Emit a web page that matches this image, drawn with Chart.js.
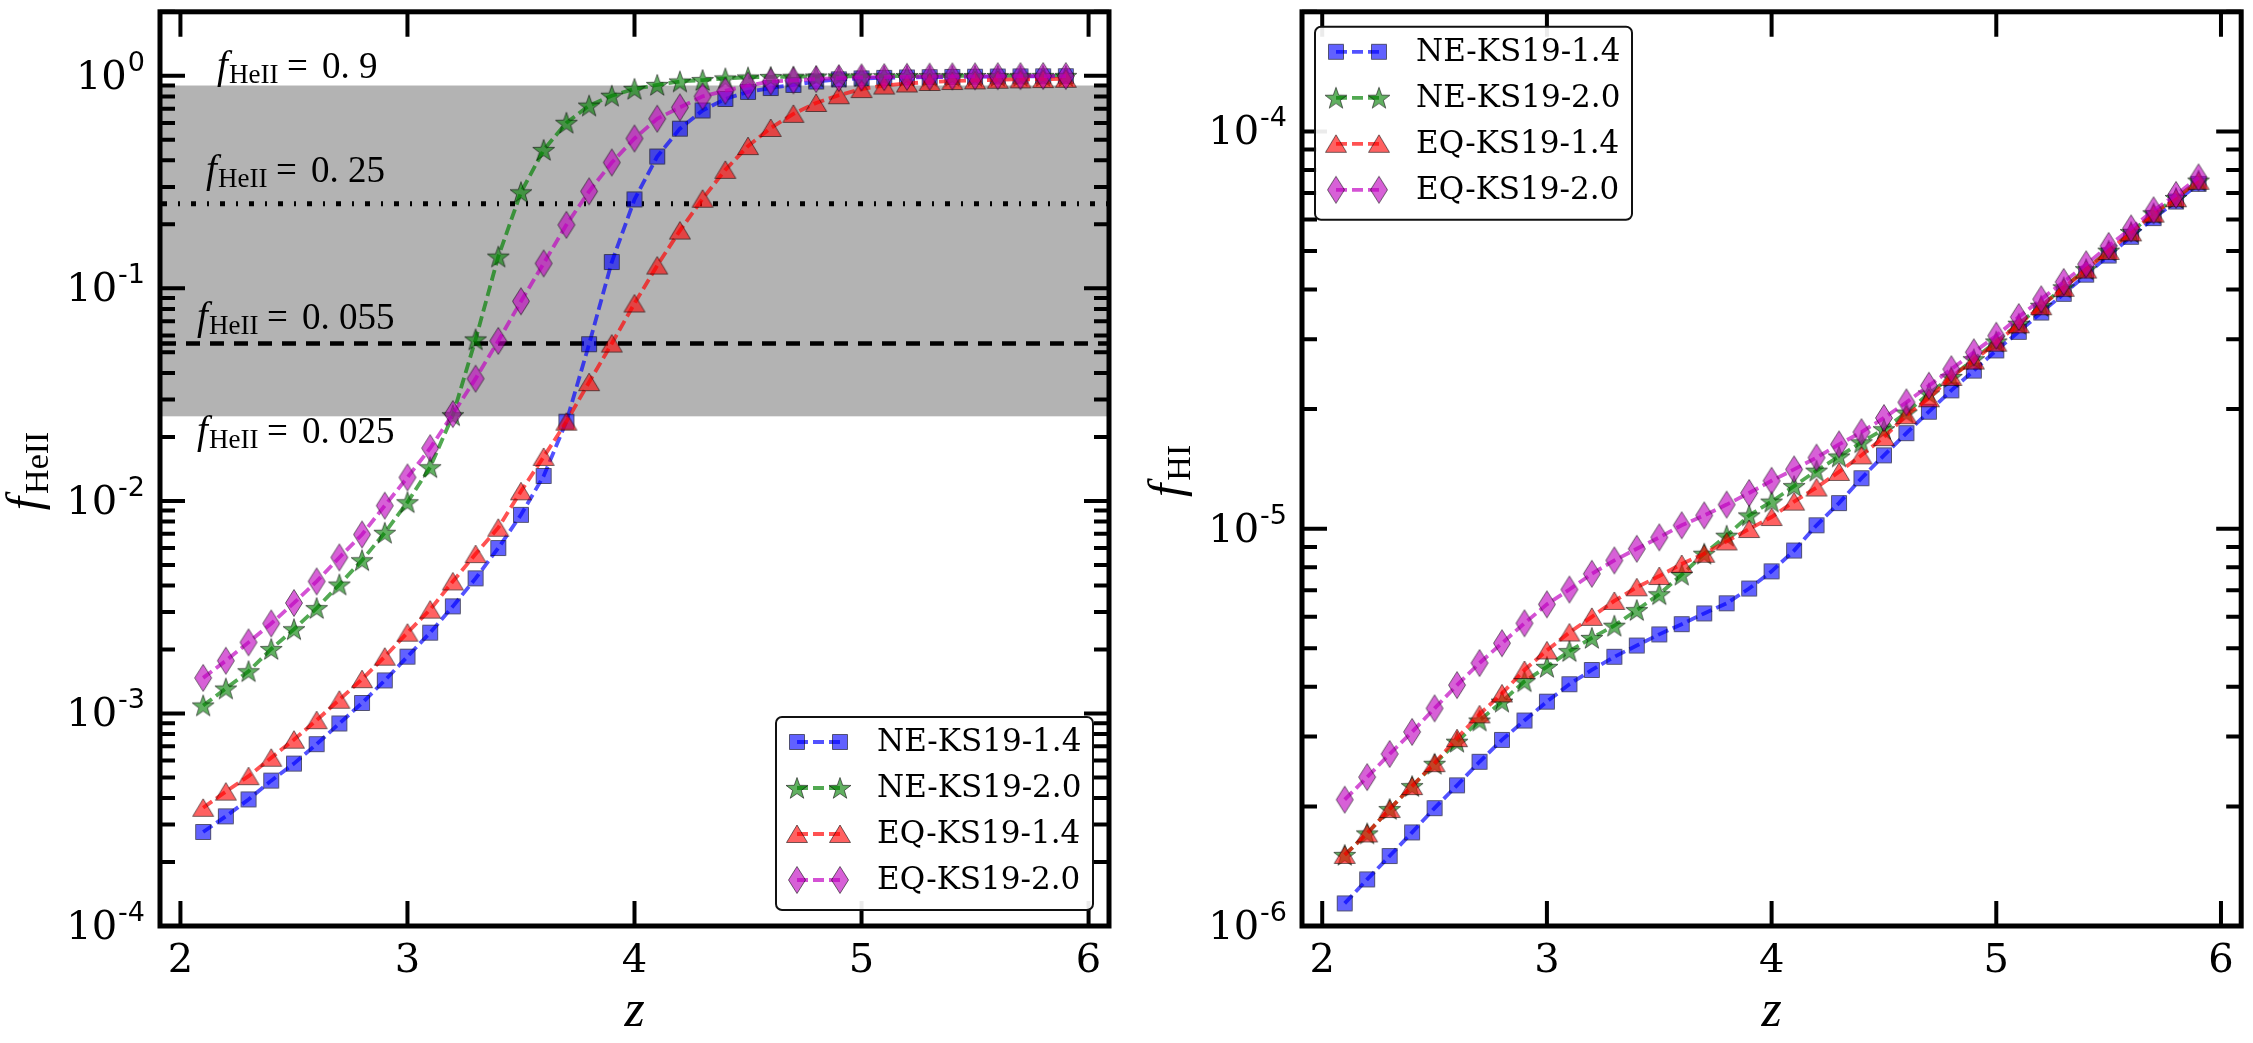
<!DOCTYPE html>
<html><head><meta charset="utf-8">
<script src="https://cdn.jsdelivr.net/npm/chart.js@4/dist/chart.umd.min.js"></script>
<style>
html,body{margin:0;padding:0;background:#fff;width:2253px;height:1043px;overflow:hidden}
canvas{position:absolute;left:0;top:0}
</style></head><body>
<canvas id="c1" width="2253" height="1043"></canvas>
<canvas id="c2" width="2253" height="1043"></canvas>
<script>
// ---------------- DATA ----------------
const zValues = [2.1,2.2,2.3,2.4,2.5,2.6,2.7,2.8,2.9,3.0,3.1,3.2,3.3,3.4,3.5,3.6,3.7,3.8,3.9,4.0,
                 4.1,4.2,4.3,4.4,4.5,4.6,4.7,4.8,4.9,5.0,5.1,5.2,5.3,5.4,5.5,5.6,5.7,5.8,5.9];
const seriesNames = ['NE-KS19-1.4','NE-KS19-2.0','EQ-KS19-1.4','EQ-KS19-2.0'];

// left panel: f_HeII
const heII_NE14 = [2.77e-4,3.28e-4,3.94e-4,4.83e-4,5.81e-4,7.17e-4,8.97e-4,1.12e-3,1.43e-3,1.85e-3,
                   2.40e-3,3.19e-3,4.32e-3,6.0e-3,8.6e-3,1.31e-2,2.36e-2,5.46e-2,0.133,0.262,
                   0.417,0.564,0.687,0.778,0.84,0.876,0.906,0.94,0.962,0.972,
                   0.978,0.982,0.985,0.988,0.99,0.992,0.993,0.994,0.995];
const heII_NE20 = [1.09e-3,1.31e-3,1.58e-3,2.01e-3,2.49e-3,3.13e-3,4.04e-3,5.26e-3,7.08e-3,9.86e-3,
                   1.44e-2,2.53e-2,5.75e-2,0.141,0.283,0.448,0.601,0.724,0.806,0.868,
                   0.906,0.94,0.955,0.972,0.982,0.988,0.99,0.992,0.994,0.995,
                   0.996,0.997,0.997,0.998,0.998,0.998,0.999,0.999,0.999];
const heII_EQ14 = [3.6e-4,4.29e-4,5.07e-4,6.19e-4,7.53e-4,9.3e-4,1.16e-3,1.45e-3,1.85e-3,2.40e-3,
                   3.08e-3,4.18e-3,5.62e-3,7.48e-3,1.11e-2,1.61e-2,2.36e-2,3.62e-2,5.5e-2,8.49e-2,
                   0.128,0.187,0.264,0.361,0.467,0.568,0.662,0.745,0.81,0.866,
                   0.90,0.92,0.935,0.945,0.952,0.958,0.962,0.965,0.968];
const heII_EQ20 = [1.47e-3,1.77e-3,2.16e-3,2.65e-3,3.31e-3,4.18e-3,5.42e-3,6.95e-3,9.5e-3,1.29e-2,
                   1.77e-2,2.56e-2,3.76e-2,5.66e-2,8.69e-2,0.131,0.199,0.286,0.391,0.507,
                   0.628,0.71,0.80,0.85,0.90,0.94,0.952,0.965,0.975,0.983,
                   0.986,0.989,0.991,0.993,0.994,0.995,0.996,0.997,0.997];

// right panel: f_HI
const hI_NE14 = [1.14e-6,1.31e-6,1.50e-6,1.72e-6,1.98e-6,2.26e-6,2.59e-6,2.94e-6,3.29e-6,3.67e-6,
                 4.06e-6,4.41e-6,4.76e-6,5.08e-6,5.42e-6,5.75e-6,6.12e-6,6.49e-6,7.07e-6,7.81e-6,
                 8.81e-6,1.02e-5,1.16e-5,1.34e-5,1.53e-5,1.74e-5,1.97e-5,2.23e-5,2.50e-5,2.81e-5,
                 3.13e-5,3.50e-5,3.90e-5,4.36e-5,4.87e-5,5.43e-5,6.05e-5,6.66e-5,7.38e-5];
const hI_NE20 = [1.51e-6,1.71e-6,1.97e-6,2.25e-6,2.56e-6,2.91e-6,3.29e-6,3.67e-6,4.13e-6,4.49e-6,
                 4.92e-6,5.31e-6,5.70e-6,6.24e-6,6.84e-6,7.66e-6,8.65e-6,9.6e-6,1.08e-5,1.17e-5,
                 1.28e-5,1.40e-5,1.52e-5,1.65e-5,1.78e-5,1.96e-5,2.19e-5,2.41e-5,2.67e-5,2.96e-5,
                 3.28e-5,3.64e-5,4.05e-5,4.50e-5,5.01e-5,5.58e-5,6.22e-5,6.80e-5,7.52e-5];
const hI_EQ14 = [1.51e-6,1.71e-6,1.97e-6,2.25e-6,2.57e-6,2.97e-6,3.41e-6,3.85e-6,4.41e-6,4.94e-6,
                 5.48e-6,6.0e-6,6.58e-6,7.12e-6,7.6e-6,8.15e-6,8.65e-6,9.29e-6,9.98e-6,1.07e-5,
                 1.17e-5,1.27e-5,1.39e-5,1.53e-5,1.70e-5,1.93e-5,2.13e-5,2.41e-5,2.65e-5,2.94e-5,
                 3.27e-5,3.63e-5,4.04e-5,4.49e-5,5.0e-5,5.57e-5,6.21e-5,6.79e-5,7.51e-5];
const hI_EQ20 = [2.08e-6,2.37e-6,2.71e-6,3.08e-6,3.53e-6,4.04e-6,4.59e-6,5.15e-6,5.78e-6,6.45e-6,
                 7.03e-6,7.7e-6,8.32e-6,8.9e-6,9.51e-6,1.02e-5,1.08e-5,1.15e-5,1.23e-5,1.32e-5,
                 1.41e-5,1.51e-5,1.63e-5,1.75e-5,1.90e-5,2.08e-5,2.29e-5,2.52e-5,2.78e-5,3.06e-5,
                 3.41e-5,3.78e-5,4.18e-5,4.63e-5,5.15e-5,5.70e-5,6.33e-5,6.92e-5,7.66e-5];

const xTicks = [2,3,4,5,6];
const xRange = [1.91, 6.09];
const heIIRange = [1e-4, 2];
const hIRange = [1e-6, 2e-4];
const heIIThresholds = [0.9, 0.25, 0.055, 0.025];
const heIIThresholdLabels = ['0.9','0.25','0.055','0.025'];

// ---------------- STYLE ----------------
const W = 2253, H = 1043;
const seriesColors = [[0,0,255],[0,128,0],[255,0,0],[191,0,191]];
const seriesShapes = ['square','star','triangle','diamond'];
const rgba = (c,a) => `rgba(${c[0]},${c[1]},${c[2]},${a})`;

function makeMarker(shape, col) {
  const c = document.createElement('canvas');
  let w, h;
  if (shape === 'square') { w = h = 18; }
  else if (shape === 'star') { w = h = 26; }
  else if (shape === 'triangle') { w = 24; h = 22; }
  else { w = 20; h = 30; }
  c.width = w; c.height = h;
  const g = c.getContext('2d');
  const cx = w/2, cy = h/2;
  g.beginPath();
  if (shape === 'square') {
    g.rect(cx-7.5, cy-7.5, 15, 15);
  } else if (shape === 'star') {
    const R = 11.5, r = R*0.40;
    for (let k = 0; k < 10; k++) {
      const rad = (k % 2 === 0) ? R : r;
      const ang = -Math.PI/2 + k*Math.PI/5;
      const px = cx + rad*Math.cos(ang), py = cy + 1 + rad*Math.sin(ang);
      if (k === 0) g.moveTo(px, py); else g.lineTo(px, py);
    }
    g.closePath();
  } else if (shape === 'triangle') {
    g.moveTo(cx, cy - 9); g.lineTo(cx - 10.5, cy + 8.5); g.lineTo(cx + 10.5, cy + 8.5); g.closePath();
  } else {
    g.moveTo(cx, cy - 13.5); g.lineTo(cx + 8.5, cy); g.lineTo(cx, cy + 13.5); g.lineTo(cx - 8.5, cy); g.closePath();
  }
  g.fillStyle = rgba(col, 0.62);
  g.fill();
  g.lineWidth = 1;
  g.strokeStyle = 'rgba(0,0,0,0.55)';
  g.stroke();
  return c;
}
const markers = seriesShapes.map((s,i) => makeMarker(s, seriesColors[i]));

function buildDatasets(seriesList) {
  return seriesList.map((vals, i) => ({
    label: seriesNames[i],
    data: zValues.map((z, j) => ({x: z, y: vals[j]})),
    borderColor: rgba(seriesColors[i], 0.68),
    backgroundColor: rgba(seriesColors[i], 0.62),
    borderWidth: 3.8,
    borderDash: [11, 5],
    borderCapStyle: 'butt',
    pointStyle: markers[i],
    pointRadius: 8,
    tension: 0,
    fill: false,
    order: 3 - i
  }));
}

function drawMathLabel(ctx, x, y, num) {
  ctx.fillStyle = '#000';
  ctx.textAlign = 'left'; ctx.textBaseline = 'alphabetic';
  ctx.font = 'italic 39px "Liberation Serif"';
  ctx.fillText('f', x + 4, y);
  ctx.font = '27px "Liberation Serif"';
  ctx.fillText('HeII', x + 16, y + 5);
  ctx.font = '37px "Liberation Serif"';
  ctx.fillText('=', x + 74, y);
  const parts = num.split('.');
  ctx.fillText(parts[0] + '.', x + 109, y);
  ctx.fillText(parts[1], x + 146, y);
}

function panelPlugin(cfg) {
  return {
    id: 'panel' + cfg.id,
    beforeDatasetsDraw(chart) {
      const ctx = chart.ctx, a = chart.chartArea, y = chart.scales.y;
      if (!cfg.thresholds) return;
      ctx.save();
      const t = cfg.thresholds;
      const yTop = y.getPixelForValue(t[0]), yBot = y.getPixelForValue(t[3]);
      ctx.fillStyle = '#b3b3b3';
      ctx.fillRect(a.left, yTop, a.right - a.left, yBot - yTop);
      ctx.strokeStyle = '#000';
      ctx.lineCap = 'butt';
      ctx.lineWidth = 5;
      ctx.setLineDash([5, 11, 2, 11]);
      let py = y.getPixelForValue(t[1]);
      ctx.beginPath(); ctx.moveTo(a.left + 2, py); ctx.lineTo(a.right, py); ctx.stroke();
      ctx.lineWidth = 4.5;
      ctx.setLineDash([14, 10]);
      py = y.getPixelForValue(t[2]);
      ctx.beginPath(); ctx.moveTo(a.left + 2, py); ctx.lineTo(a.right, py); ctx.stroke();
      ctx.setLineDash([]);
      const xOff = [53, 42, 33, 33], dy = [-8, -22, -15, 27];
      t.forEach((v, k) => {
        drawMathLabel(ctx, a.left + xOff[k], y.getPixelForValue(v) + dy[k], cfg.thresholdLabels[k]);
      });
      ctx.restore();
    },
    afterDatasetsDraw(chart) {
      const ctx = chart.ctx, a = chart.chartArea, x = chart.scales.x, y = chart.scales.y;
      ctx.save();
      ctx.setLineDash([]);
      ctx.strokeStyle = '#000';
      ctx.lineCap = 'butt';
      const majorLen = 25, minorLen = 15;
      ctx.lineWidth = 4;
      ctx.beginPath();
      xTicks.forEach(v => {
        const px = x.getPixelForValue(v);
        ctx.moveTo(px, a.bottom); ctx.lineTo(px, a.bottom - majorLen);
        ctx.moveTo(px, a.top); ctx.lineTo(px, a.top + majorLen);
      });
      const kMin = Math.floor(Math.log10(cfg.yRange[0])), kMax = Math.ceil(Math.log10(cfg.yRange[1]));
      for (let k = kMin; k <= kMax; k++) {
        for (let m = 1; m <= 9; m++) {
          const v = m * Math.pow(10, k);
          if (v < cfg.yRange[0] * 0.999 || v > cfg.yRange[1] * 1.001) continue;
          const py = y.getPixelForValue(v);
          const L = (m === 1) ? majorLen : minorLen;
          ctx.moveTo(a.left, py); ctx.lineTo(a.left + L, py);
          ctx.moveTo(a.right, py); ctx.lineTo(a.right - L, py);
        }
      }
      ctx.stroke();
      ctx.lineWidth = 5;
      ctx.strokeRect(a.left, a.top, a.right - a.left, a.bottom - a.top);
      ctx.fillStyle = '#000';
      ctx.font = '40px "DejaVu Serif"';
      ctx.textAlign = 'center'; ctx.textBaseline = 'alphabetic';
      xTicks.forEach(v => ctx.fillText(String(v), x.getPixelForValue(v), a.bottom + 46));
      for (let k = kMin; k <= kMax; k++) {
        const v = Math.pow(10, k);
        if (v < cfg.yRange[0] * 0.999 || v > cfg.yRange[1] * 1.001) continue;
        const py = y.getPixelForValue(v);
        const exp = String(k);
        ctx.textAlign = 'left';
        ctx.font = '27px "DejaVu Sans"';
        const we = ctx.measureText(exp).width;
        ctx.font = '40px "DejaVu Serif"';
        const wb = ctx.measureText('10').width;
        const rightEdge = a.left - 15;
        ctx.fillText('10', rightEdge - we - wb - 1, py + 13);
        ctx.font = '27px "DejaVu Sans"';
        ctx.fillText(exp, rightEdge - we, py - 5);
      }
      ctx.save();
      ctx.translate(a.left - 120, (a.top + a.bottom) / 2 + 2);
      ctx.rotate(-Math.PI / 2);
      ctx.font = 'italic 48px "Liberation Serif"';
      const wf = ctx.measureText('f').width;
      ctx.font = '34px "Liberation Serif"';
      const ws = ctx.measureText(cfg.sub).width;
      const tot = wf + 3 + ws;
      ctx.textAlign = 'left';
      ctx.font = 'italic 48px "Liberation Serif"';
      ctx.fillText('f', -tot / 2, 0);
      ctx.font = '34px "Liberation Serif"';
      ctx.fillText(cfg.sub, -tot / 2 + wf + 3, 8);
      ctx.restore();
      ctx.textAlign = 'center';
      ctx.font = 'italic 52px "Liberation Serif"';
      ctx.fillText('z', (a.left + a.right) / 2, 1026);
      const lw = 317, lh = 193;
      let bx, by;
      if (cfg.legend === 'lower right') { bx = a.right - 16 - lw; by = a.bottom - 16 - lh; }
      else { bx = a.left + 13; by = a.top + 15; }
      ctx.beginPath();
      if (ctx.roundRect) ctx.roundRect(bx, by, lw, lh, 6); else ctx.rect(bx, by, lw, lh);
      ctx.fillStyle = 'rgba(255,255,255,0.92)';
      ctx.fill();
      ctx.lineWidth = 2;
      ctx.strokeStyle = '#111';
      ctx.stroke();
      seriesNames.forEach((name, i) => {
        const cy = by + 25 + i * 46;
        const m1 = bx + 21, m2 = bx + 64;
        ctx.strokeStyle = rgba(seriesColors[i], 0.68);
        ctx.lineWidth = 3.8;
        ctx.setLineDash([11, 5]);
        ctx.beginPath(); ctx.moveTo(m1, cy); ctx.lineTo(m2, cy); ctx.stroke();
        ctx.setLineDash([]);
        const mk = markers[i];
        ctx.drawImage(mk, m1 - mk.width / 2, cy - mk.height / 2);
        ctx.drawImage(mk, m2 - mk.width / 2, cy - mk.height / 2);
        ctx.fillStyle = '#000';
        ctx.font = '31px "DejaVu Serif"';
        ctx.textAlign = 'left'; ctx.textBaseline = 'middle';
        ctx.fillText(name, bx + 101, cy + 1);
        ctx.textBaseline = 'alphabetic';
      });
      ctx.restore();
    }
  };
}

function makeChart(canvasId, cfg) {
  return new Chart(document.getElementById(canvasId), {
    type: 'line',
    data: { datasets: buildDatasets(cfg.series) },
    options: {
      responsive: false,
      animation: false,
      devicePixelRatio: 1,
      events: [],
      layout: { padding: { left: cfg.padLeft, right: cfg.padRight, top: 2, bottom: 0 } },
      plugins: { legend: { display: false }, tooltip: { enabled: false } },
      scales: {
        x: {
          type: 'linear', min: xRange[0], max: xRange[1],
          grid: { display: false }, border: { display: false },
          ticks: { display: false },
          afterFit: s => { s.height = 117; }
        },
        y: {
          type: 'logarithmic', min: cfg.yRange[0], max: cfg.yRange[1],
          grid: { display: false }, border: { display: false },
          ticks: { display: false },
          afterFit: s => { s.width = 160; }
        }
      }
    },
    plugins: [panelPlugin(cfg)]
  });
}

makeChart('c1', {
  id: 'L', padLeft: 0, padRight: W - 1109, yRange: heIIRange,
  series: [heII_NE14, heII_NE20, heII_EQ14, heII_EQ20],
  thresholds: heIIThresholds, thresholdLabels: heIIThresholdLabels,
  sub: 'HeII', legend: 'lower right'
});
makeChart('c2', {
  id: 'R', padLeft: 1302 - 160, padRight: W - 2250, yRange: hIRange,
  series: [hI_NE14, hI_NE20, hI_EQ14, hI_EQ20],
  thresholds: null, sub: 'HI', legend: 'upper left'
});
</script></body></html>
